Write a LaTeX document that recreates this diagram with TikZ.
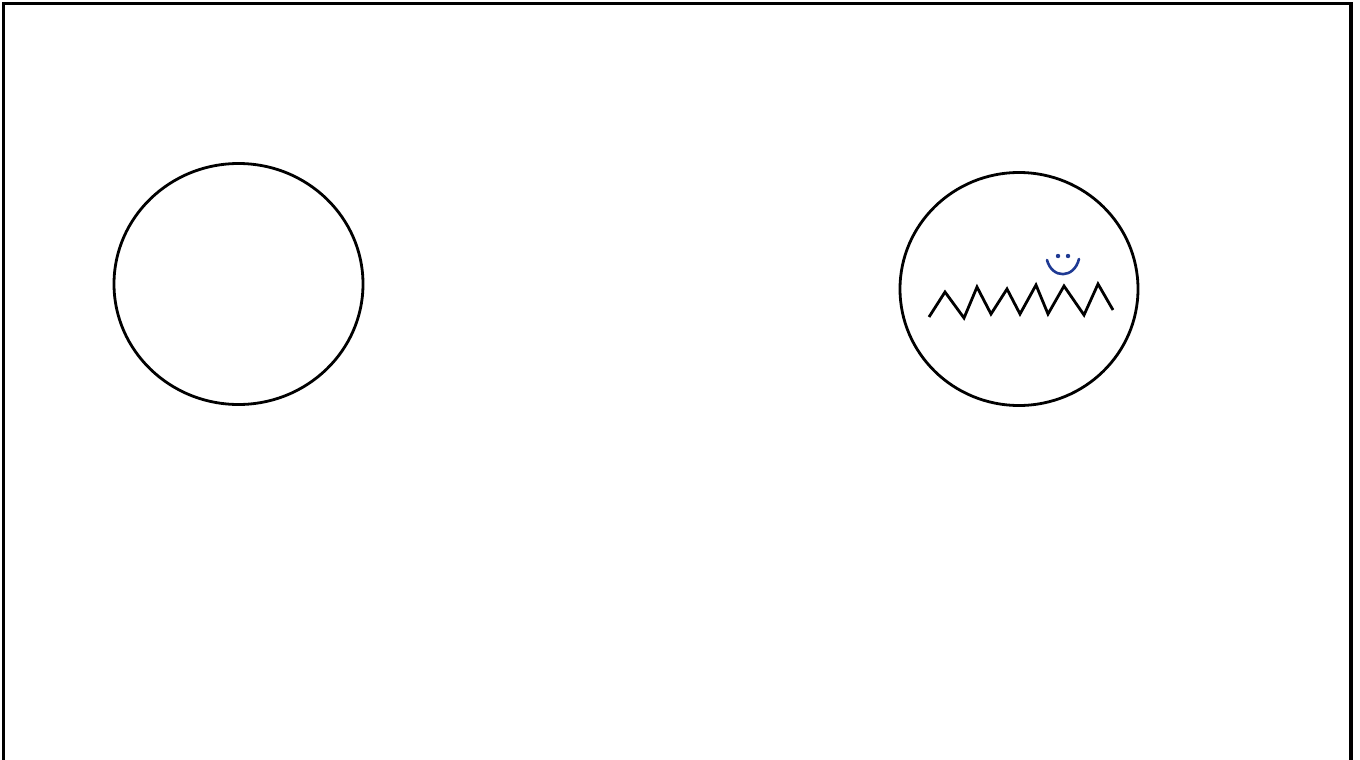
\documentclass[tikz,border=0pt]{standalone}
\usetikzlibrary{shapes.geometric}
\definecolor{smileblue}{HTML}{1F3A93}
\begin{document}
\begin{tikzpicture}[x=1pt,y=-1pt,
  frameline/.style={line width=3.4pt,black},
  ring/.style={line width=2.8pt,black},
  zig/.style={line width=2.8pt,black,line join=miter},
  smile/.style={line width=2.6pt,smileblue,line cap=round}]
\useasboundingbox (0,0) rectangle (1360,760);
\fill[white] (0,0) rectangle (1360,760);
% frame (left, top, right)
\draw[frameline] (3.5,770) -- (3.5,3.5) -- (1351,3.5) -- (1351,770);
% left circle
\node[ring,draw,ellipse,minimum width=249pt,minimum height=241pt,inner sep=0pt] (c1) at (238.5,284) {};
% right circle
\node[ring,draw,ellipse,minimum width=238pt,minimum height=233pt,inner sep=0pt] (c2) at (1019,289) {};
% zigzag
\draw[zig] (929,317) -- (945,292) -- (964,318) -- (977,287) -- (991,314) -- (1007,289) -- (1020,314) -- (1036,285) -- (1048,314) -- (1064,286) -- (1084,315) -- (1098,284) -- (1113,310);
% smiley
\fill[smileblue] (1058,256) circle (2.2pt);
\fill[smileblue] (1068,256) circle (2.2pt);
\draw[smile] (1047,260) .. controls (1052,279) and (1074,279) .. (1079,259);
\end{tikzpicture}
\end{document}
